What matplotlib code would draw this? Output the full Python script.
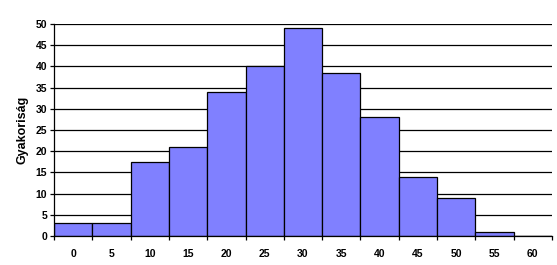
import numpy as np
import matplotlib
matplotlib.use("Agg")
import matplotlib.pyplot as plt

# histogram data
bins = ["0", "5", "10", "15", "20", "25", "30", "35", "40", "45", "50", "55", "60"]
counts = [3, 3, 17.5, 21, 34, 40, 49, 38.5, 28, 14, 9, 1, 0]
yticks = [0, 5, 10, 15, 20, 25, 30, 35, 40, 45, 50]

plt.rcParams["font.family"] = ["Liberation Sans", "DejaVu Sans"]
fig = plt.figure(figsize=(5.57, 2.65), dpi=100)
ax = fig.add_axes([0.0969, 0.1094, 0.8941, 0.8])

x = np.arange(len(bins))
ax.set_axisbelow(True)
ax.yaxis.grid(True, color="black", linewidth=0.9)
ax.bar(x, counts, width=1.0, color="#8080FF", edgecolor="black", linewidth=0.9)

ax.set_xlim(-0.5, len(bins) - 0.5)
ax.set_ylim(0, 50)
ax.set_yticks(yticks)
ax.set_yticklabels([str(v) for v in yticks], fontsize=7.5, fontweight="bold")
ax.set_xticks(x)
ax.set_xticklabels(bins, fontsize=7.5, fontweight="bold")
ax.tick_params(axis="x", length=0, pad=9)
ax.set_xticks(np.arange(-0.5, len(bins)), minor=True)
ax.tick_params(axis="x", which="minor", length=3, width=0.9, direction="out")
ax.tick_params(axis="y", length=3, width=0.9, direction="out", pad=2)

for s in ["top", "right"]:
    ax.spines[s].set_visible(False)
ax.spines["left"].set_linewidth(0.9)
ax.spines["bottom"].set_linewidth(0.9)

ax.set_ylabel("Gyakoriság", fontsize=9, fontweight="bold", labelpad=5)

fig.savefig("out.png", dpi=100)
